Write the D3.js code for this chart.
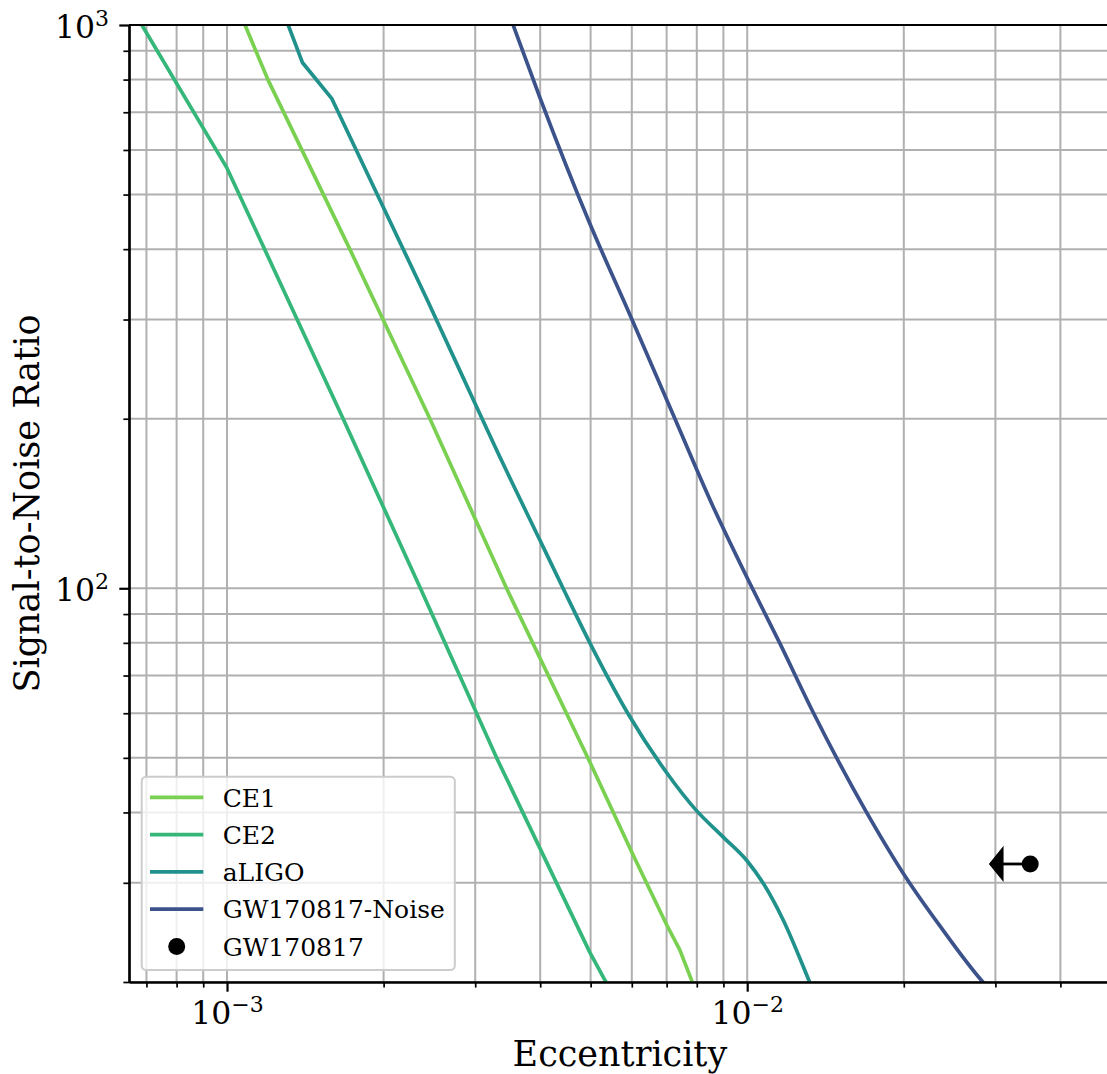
<!DOCTYPE html>
<html>
<head>
<meta charset="utf-8">
<script src="https://cdn.jsdelivr.net/npm/d3@7"></script>
<style>
  body { margin: 0; background: #fff; }
  svg { display: block; font-family: "DejaVu Serif", serif; }
</style>
</head>
<body>
<div id="chart"></div>
<script>
const width = 1107;
const height = 1074;

// curves (eccentricity vs SNR)
const ce1Ecc = [1.07e-3, 1.083e-3, 1.199e-3, 1.722e-3, 2.455e-3, 3.446e-3, 4.98e-3, 6.035e-3, 6.996e-3, 7.42e-3, 7.81e-3, 7.89e-3];
const ce1Snr = [1028, 1000, 799, 400, 200, 100, 49.2, 33.6, 25.3, 22.8, 20.2, 19.6];

const ce2Ecc = [6.5e-4, 6.86e-4, 1.0e-3, 1.672e-3, 2.349e-3, 3.298e-3, 4.98e-3, 5.32e-3, 5.45e-3];
const ce2Snr = [1087, 1000, 557, 200, 100.4, 50, 22.6, 20.2, 19.4];

const aligoEcc = [1.30e-3, 1.311e-3, 1.396e-3, 1.589e-3, 2.419e-3, 3.018e-3, 3.298e-3, 3.994e-3, 4.426e-3, 4.98e-3, 5.945e-3, 6.996e-3, 7.99e-3, 8.985e-3, 1.0e-2, 1.072e-2, 1.172e-2, 1.318e-2, 1.33e-2];
const aligoSnr = [1021, 1000, 858, 741, 327, 210, 176, 121.8, 100, 80.1, 59.2, 47.1, 40.3, 36.2, 32.8, 30, 25.8, 20, 19.6];

const noiseEcc = [3.52e-3, 3.549e-3, 4.0e-3, 4.98e-3, 5.99e-3, 7.255e-3, 8.6e-3, 1.009e-2, 1.155e-2, 1.338e-2, 1.694e-2, 2.022e-2, 2.343e-2, 2.838e-2, 2.88e-2];
const noiseSnr = [1021, 1000, 741, 444.6, 301.6, 200.4, 139.6, 102.6, 79.9, 60.3, 40.1, 30.6, 25.2, 20, 19.7];

// GW170817 upper limit on eccentricity
const gwEcc = 0.035;
const gwSnr = 32.4;
const gwErr = 0.004;

const seriesNames = ["CE1", "CE2", "aLIGO", "GW170817-Noise"];
const seriesColors = ["#7ad151", "#35b779", "#21918c", "#3b528b"];

// sharp: how many leading points are joined with straight segments (rest smoothed)
const series = [
    { name: seriesNames[0], color: seriesColors[0], ecc: ce1Ecc, snr: ce1Snr, sharp: ce1Ecc.length },
    { name: seriesNames[1], color: seriesColors[1], ecc: ce2Ecc, snr: ce2Snr, sharp: ce2Ecc.length },
    { name: seriesNames[2], color: seriesColors[2], ecc: aligoEcc, snr: aligoSnr, sharp: 4 },
    { name: seriesNames[3], color: seriesColors[3], ecc: noiseEcc, snr: noiseSnr, sharp: 0 }
];

const plot = { left: 129, top: 25, right: 1110.8, bottom: 982 };

const x = d3.scaleLog().domain([6.48e-4, 0.05]).range([plot.left, plot.right]);
const y = d3.scaleLog().domain([20, 1000]).range([plot.bottom, plot.top]);

const svg = d3.select("#chart").append("svg")
    .attr("width", width)
    .attr("height", height);

svg.append("defs").append("clipPath").attr("id", "clip")
    .append("rect")
    .attr("x", plot.left).attr("y", plot.top)
    .attr("width", plot.right - plot.left).attr("height", plot.bottom - plot.top);

const isMajor = d => Math.abs(Math.log10(d) - Math.round(Math.log10(d))) < 1e-9;
const xAll = x.ticks();
const yAll = y.ticks();

// grid (major + minor)
const grid = svg.append("g").attr("clip-path", "url(#clip)");
grid.selectAll(".gx").data(xAll).enter().append("line")
    .attr("x1", d => x(d)).attr("x2", d => x(d))
    .attr("y1", plot.top).attr("y2", plot.bottom)
    .attr("stroke", "#b0b0b0").attr("stroke-width", 2);
grid.selectAll(".gy").data(yAll).enter().append("line")
    .attr("x1", plot.left).attr("x2", plot.right)
    .attr("y1", d => y(d)).attr("y2", d => y(d))
    .attr("stroke", "#b0b0b0").attr("stroke-width", 2);

// curves
const straight = d3.line().x(d => x(d[0])).y(d => y(d[1]));
const smooth = d3.line().x(d => x(d[0])).y(d => y(d[1])).curve(d3.curveMonotoneX);

const curves = svg.append("g").attr("clip-path", "url(#clip)");
series.forEach(s => {
    const pts = s.ecc.map((e, i) => [e, s.snr[i]]);
    const head = pts.slice(0, s.sharp);
    const tail = pts.slice(Math.max(s.sharp - 1, 0));
    let d = "";
    if (head.length > 1) d += straight(head);
    if (tail.length > 1) d += smooth(tail);
    curves.append("path")
        .attr("fill", "none")
        .attr("stroke", s.color)
        .attr("stroke-width", 3.7)
        .attr("stroke-linejoin", "round")
        .attr("stroke-linecap", "round")
        .attr("d", d);
});

// GW170817 point with left arrow (upper limit)
const gx = x(gwEcc), gy = y(gwSnr), gEnd = x(gwEcc - gwErr);
curves.append("line")
    .attr("x1", gEnd).attr("x2", gx)
    .attr("y1", gy).attr("y2", gy)
    .attr("stroke", "black").attr("stroke-width", 2.8);
curves.append("path")
    .attr("d", `M${gEnd},${gy - 16} L${gEnd - 13},${gy} L${gEnd},${gy + 16} Z`)
    .attr("fill", "black").attr("stroke", "black").attr("stroke-width", 1.5)
    .attr("stroke-linejoin", "miter");
curves.append("circle")
    .attr("cx", gx).attr("cy", gy).attr("r", 8.5)
    .attr("fill", "black");

// axes
const axisStyle = g => {
    g.select(".domain").attr("stroke", "black").attr("stroke-width", 2.2);
    g.selectAll(".tick line").attr("stroke", "black");
};

const xMajor = xAll.filter(isMajor), xMinor = xAll.filter(d => !isMajor(d));
const yMajor = yAll.filter(isMajor), yMinor = yAll.filter(d => !isMajor(d));

const xAxisMinor = svg.append("g").attr("transform", `translate(0,${plot.bottom})`)
    .call(d3.axisBottom(x).tickValues(xMinor).tickSize(5.6).tickSizeOuter(0).tickFormat(() => ""));
xAxisMinor.selectAll(".tick line").attr("stroke-width", 1.7);
const xAxis = svg.append("g").attr("transform", `translate(0,${plot.bottom})`)
    .call(d3.axisBottom(x).tickValues(xMajor).tickSize(9.7).tickSizeOuter(0).tickFormat(() => ""));
xAxis.selectAll(".tick line").attr("stroke-width", 2.2);
xAxisMinor.call(axisStyle);
xAxis.call(axisStyle);

const yAxisMinor = svg.append("g").attr("transform", `translate(${plot.left},0)`)
    .call(d3.axisLeft(y).tickValues(yMinor).tickSize(5.6).tickSizeOuter(0).tickFormat(() => ""));
yAxisMinor.selectAll(".tick line").attr("stroke-width", 1.7);
const yAxis = svg.append("g").attr("transform", `translate(${plot.left},0)`)
    .call(d3.axisLeft(y).tickValues(yMajor).tickSize(9.7).tickSizeOuter(0).tickFormat(() => ""));
yAxis.selectAll(".tick line").attr("stroke-width", 2.2);
yAxisMinor.call(axisStyle);
yAxis.call(axisStyle);

// top and right spines
svg.append("line")
    .attr("x1", plot.left).attr("x2", plot.right)
    .attr("y1", plot.top).attr("y2", plot.top)
    .attr("stroke", "black").attr("stroke-width", 2.2);
svg.append("line")
    .attr("x1", plot.right).attr("x2", plot.right)
    .attr("y1", plot.top).attr("y2", plot.bottom)
    .attr("stroke", "black").attr("stroke-width", 2.2);

// power-of-ten tick labels
function powLabel(sel, d) {
    const e = Math.round(Math.log10(d));
    sel.append("tspan").attr("font-size", "31.5px").text("10");
    sel.append("tspan").attr("font-size", "22px").attr("dy", -12.5)
        .text(e < 0 ? "\u2212" + Math.abs(e) : String(e));
}

xAxis.selectAll(".tick").each(function(d) {
    const t = d3.select(this).append("text")
        .attr("y", 42)
        .attr("fill", "black")
        .attr("text-anchor", "middle")
        .attr("font-family", "DejaVu Serif");
    powLabel(t, d);
});
yAxis.selectAll(".tick").each(function(d) {
    const t = d3.select(this).append("text")
        .attr("x", -20)
        .attr("dy", 12.5)
        .attr("fill", "black")
        .attr("text-anchor", "end")
        .attr("font-family", "DejaVu Serif");
    powLabel(t, d);
});

// axis titles
svg.append("text")
    .attr("x", (plot.left + plot.right) / 2)
    .attr("y", 1066)
    .attr("text-anchor", "middle")
    .attr("font-size", "35px")
    .text("Eccentricity");
svg.append("text")
    .attr("transform", `translate(39,${(plot.top + plot.bottom) / 2}) rotate(-90)`)
    .attr("text-anchor", "middle")
    .attr("font-size", "35px")
    .text("Signal-to-Noise Ratio");

// legend
const legend = svg.append("g");
const legBox = legend.append("rect")
    .attr("x", 141.7).attr("y", 776.7)
    .attr("rx", 4.5).attr("ry", 4.5)
    .attr("height", 970 - 776.7)
    .attr("fill", "white").attr("fill-opacity", 0.8)
    .attr("stroke", "#cccccc").attr("stroke-width", 2);

const legendItems = series.map(s => ({ name: s.name, color: s.color, type: "line" }))
    .concat([{ name: "GW170817", color: "black", type: "dot" }]);

let maxEnd = 0;
legendItems.forEach((item, i) => {
    const ry = 797.3 + i * 37.3;
    if (item.type === "line") {
        legend.append("line")
            .attr("x1", 150).attr("x2", 203.3)
            .attr("y1", ry).attr("y2", ry)
            .attr("stroke", item.color).attr("stroke-width", 3.7);
    } else {
        legend.append("circle")
            .attr("cx", 176.7).attr("cy", ry).attr("r", 8.5)
            .attr("fill", item.color);
    }
    const t = legend.append("text")
        .attr("x", 222.7).attr("y", ry + 9.2)
        .attr("font-size", "25px")
        .text(item.name);
    maxEnd = Math.max(maxEnd, 222.7 + t.node().getComputedTextLength());
});
legBox.attr("width", maxEnd + 10 - 141.7);
</script>
</body>
</html>
